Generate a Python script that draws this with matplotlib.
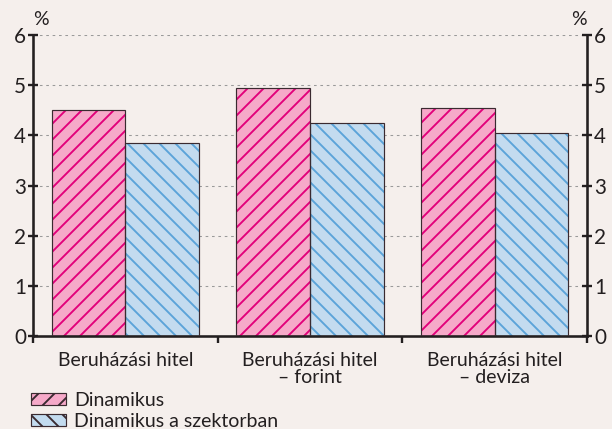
import matplotlib.pyplot as plt
import matplotlib.patches as mpatches
import numpy as np

dpi = 96
k = 85 / dpi  # sizes below were tuned in px at 85 dpi

plt.rcParams['font.family'] = ['Lato', 'DejaVu Sans']
plt.rcParams['hatch.linewidth'] = 1.6 * k

categories = ['Beruházási hitel', 'Beruházási hitel\n– forint', 'Beruházási hitel\n– deviza']
dinamikus = [4.5, 4.95, 4.55]
dinamikus_szektor = [3.85, 4.25, 4.05]
series_names = ['Dinamikus', 'Dinamikus a szektorban']
yticks = [0, 1, 2, 3, 4, 5, 6]

bg = '#f5efec'
pink_fill, pink_hatch = '#f6a9c9', '#e2007a'
blue_fill, blue_hatch = '#c3dbef', '#5ba3d9'
edge = '#3a2a30'
ink = '#231f20'
fs = 16.5 * k

fig = plt.figure(figsize=(612 / dpi, 429 / dpi), dpi=dpi, facecolor=bg)
ax = fig.add_axes([0.054, 0.217, 0.905, 0.701], facecolor=bg)

x = np.arange(len(categories))
w = 0.4

# fill + hatch first, then a plain outline on top so the hatch keeps its own colour
for vals, off, fc, hc, hatch in [(dinamikus, -w / 2, pink_fill, pink_hatch, '//'),
                                 (dinamikus_szektor, w / 2, blue_fill, blue_hatch, '\\\\')]:
    ax.bar(x + off, vals, w, facecolor=fc, edgecolor=hc, linewidth=0,
           hatch=hatch, zorder=2)
    ax.bar(x + off, vals, w, facecolor='none', edgecolor=edge, linewidth=1.0 * k, zorder=3)

ax.set_xlim(-0.5, 2.5)
ax.set_ylim(0, 6)
ax.set_yticks(yticks)
ax.set_yticklabels([str(t) for t in yticks])
for t in yticks[1:]:
    ax.axhline(t, color='#9a9a9a', linestyle=(0, (2.5, 3.5)), linewidth=0.9 * k, zorder=1)

# category separators on the x axis
ax.set_xticks([-0.5, 0.5, 1.5, 2.5])
ax.set_xticklabels([])
ax.tick_params(axis='x', direction='out', length=6 * k, width=2 * k, color=ink)
for i, c in enumerate(categories):
    ax.text(i, -0.33, c, ha='center', va='top', fontsize=fs, color=ink,
            linespacing=1.0)

ax.tick_params(axis='y', direction='inout', length=8 * k, width=2 * k, color=ink,
               labelsize=fs + k, labelcolor=ink, left=True, right=True,
               labelleft=True, labelright=True, pad=2 * k)

for s in ['left', 'right', 'bottom']:
    ax.spines[s].set_linewidth(2.2 * k)
    ax.spines[s].set_color(ink)
ax.spines['top'].set_visible(False)

ax.text(0.0, 1.025, '%', transform=ax.transAxes, fontsize=fs, color=ink,
        ha='left', va='bottom')
ax.text(1.0, 1.025, '%', transform=ax.transAxes, fontsize=fs, color=ink,
        ha='right', va='bottom')

handles = [mpatches.Patch(facecolor=pink_fill, edgecolor=pink_hatch, hatch='//', linewidth=0),
           mpatches.Patch(facecolor=blue_fill, edgecolor=blue_hatch, hatch='\\\\', linewidth=0)]
leg = fig.legend(handles, series_names, loc='upper left',
                 bbox_to_anchor=(0.05, 0.087), bbox_transform=fig.transFigure,
                 frameon=False, fontsize=fs,
                 handlelength=1.8, handleheight=0.6, handletextpad=0.45,
                 labelspacing=0.2, borderaxespad=0, borderpad=0)
for p in leg.get_patches():
    p.set_linewidth(1.0 * k)
    p.set_edgecolor(edge)
for txt in leg.get_texts():
    txt.set_color(ink)

fig.savefig('out.png', dpi=dpi, facecolor=bg)
